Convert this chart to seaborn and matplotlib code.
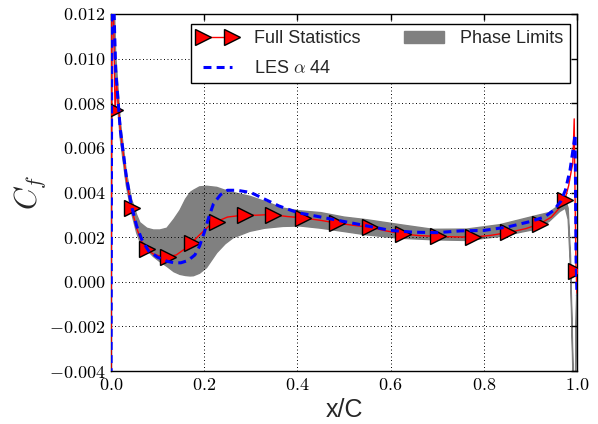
import numpy as np
import matplotlib
matplotlib.use("Agg")
import matplotlib.pyplot as plt
import seaborn as sns
from matplotlib.lines import Line2D
from matplotlib.patches import Patch
from matplotlib.ticker import FuncFormatter, MultipleLocator

# ---------------- data ----------------
x_full = [0.0, 0.002, 0.005, 0.0086, 0.012, 0.02, 0.033, 0.044, 0.055, 0.066, 0.077,
          0.09, 0.105, 0.123, 0.14, 0.157, 0.173, 0.19, 0.205, 0.215, 0.227, 0.25,
          0.27, 0.288, 0.31, 0.33, 0.348, 0.38, 0.413, 0.45, 0.484, 0.52, 0.556,
          0.59, 0.627, 0.66, 0.702, 0.74, 0.777, 0.815, 0.853, 0.89, 0.921, 0.945,
          0.962, 0.974, 0.982, 0.988, 0.991, 0.994, 0.996, 0.998, 1.0]
cf_full = [-0.0060, 0.0160, 0.0125, 0.0077, 0.0089, 0.0068, 0.0046, 0.0033, 0.0024, 0.0018, 0.00147,
           0.00125, 0.00115, 0.00113, 0.0012, 0.00145, 0.00174, 0.0021, 0.0024, 0.00258, 0.0027, 0.0029,
           0.00295, 0.0030, 0.00298, 0.0030, 0.0030, 0.00292, 0.00286, 0.00275, 0.00263, 0.00253, 0.00244,
           0.00228, 0.00214, 0.00207, 0.00203, 0.00201, 0.0020, 0.00208, 0.00221, 0.00238, 0.0026, 0.0029,
           0.0033, 0.00368, 0.0043, 0.0050, 0.0053, 0.0073, 0.0035, 0.0005, -0.0005]
marker_x = [0.0086, 0.044, 0.077, 0.123, 0.173, 0.227, 0.288, 0.348, 0.413, 0.484,
            0.556, 0.627, 0.702, 0.777, 0.853, 0.921, 0.974, 0.998]

x_les = [0.0, 0.002, 0.006, 0.01, 0.02, 0.033, 0.044, 0.055, 0.066, 0.08, 0.1, 0.12,
         0.135, 0.15, 0.165, 0.18, 0.19, 0.2, 0.21, 0.22, 0.235, 0.25, 0.27, 0.3,
         0.33, 0.36, 0.4, 0.45, 0.5, 0.55, 0.6, 0.65, 0.7, 0.75, 0.8, 0.85, 0.9,
         0.93, 0.95, 0.965, 0.975, 0.985, 0.992, 0.996, 0.998, 1.0]
cf_les = [-0.0060, 0.0160, 0.0125, 0.0095, 0.0068, 0.0047, 0.0034, 0.0025, 0.0019, 0.0014, 0.0011, 0.00092,
          0.00085, 0.00085, 0.00095, 0.0012, 0.0016, 0.0022, 0.0029, 0.0035, 0.0039, 0.0041, 0.0041, 0.0040,
          0.0037, 0.0034, 0.0031, 0.0029, 0.0027, 0.0025, 0.0023, 0.00222, 0.0022, 0.00228, 0.0023, 0.00245, 0.0027,
          0.0029, 0.0032, 0.0036, 0.0041, 0.0050, 0.0060, 0.0066, 0.0010, -0.0006]

x_phase = [0.0, 0.002, 0.006, 0.01, 0.02, 0.033, 0.044, 0.055, 0.062, 0.077, 0.091, 0.105,
           0.12, 0.135, 0.148, 0.16, 0.17, 0.177, 0.19, 0.205, 0.227, 0.245, 0.262, 0.298,
           0.33, 0.369, 0.405, 0.45, 0.5, 0.549, 0.62, 0.691, 0.763, 0.835, 0.906, 0.94,
           0.963, 0.975, 0.981, 0.986, 0.99, 0.993, 0.996, 0.998, 1.0]
phase_lower = [-0.008, 0.014, 0.0115, 0.0090, 0.0064, 0.0043, 0.0031, 0.0022, 0.0018, 0.00143, 0.00113, 0.0009,
               0.00069, 0.00045, 0.00033, 0.00028, 0.00026, 0.00027, 0.00038, 0.00063, 0.0013, 0.0017, 0.00197, 0.00226,
               0.0024, 0.00248, 0.0025, 0.0024, 0.00225, 0.0021, 0.00195, 0.00188, 0.00185, 0.00203, 0.00233, 0.0027,
               0.00315, 0.0033, 0.0028, 0.0006, -0.0030, -0.0060, -0.0065, -0.0025, 0.0000]
phase_upper = [-0.002, 0.018, 0.0135, 0.0102, 0.0072, 0.0049, 0.0037, 0.0030, 0.00265, 0.0024, 0.00232, 0.00232,
               0.0024, 0.0028, 0.0032, 0.0037, 0.0040, 0.0041, 0.00425, 0.00428, 0.00423, 0.0041, 0.0040, 0.00383,
               0.0036, 0.0033, 0.00318, 0.0031, 0.0029, 0.00278, 0.00256, 0.00235, 0.00236, 0.00256, 0.00293, 0.0031,
               0.00345, 0.0037, 0.0033, 0.0012, -0.0024, -0.0054, -0.0059, -0.0019, 0.0004]

# ---------------- style ----------------
sns.set_style("white", {"xtick.direction": "in", "ytick.direction": "in",
                        "axes.edgecolor": "black"})
plt.rcParams["font.family"] = ["Liberation Sans", "DejaVu Sans"]
plt.rcParams["mathtext.fontset"] = "cm"

fig = plt.figure(figsize=(5.98, 4.24), dpi=100)
ax = fig.add_axes([111 / 598, 53 / 424, 466 / 598, 357 / 424])

ax.fill_between(x_phase, phase_lower, phase_upper, color="#808080",
                edgecolor="#808080", lw=1, zorder=1)

mark_idx = [i for i, v in enumerate(x_full) if any(abs(v - m) < 1e-9 for m in marker_x)]
sns.lineplot(x=x_full, y=cf_full, ax=ax, color="red", lw=1, estimator=None, sort=False,
             marker=">", markevery=mark_idx, markersize=12, markerfacecolor="red",
             markeredgecolor="black", markeredgewidth=1, zorder=3)
sns.lineplot(x=x_les, y=cf_les, ax=ax, color="blue", lw=2.2, estimator=None, sort=False,
             linestyle="--", zorder=4)
for ln in ax.get_lines()[-1:]:
    ln.set_dashes((2.6, 1.7))

ax.set_xlim(0, 1)
ax.set_ylim(-0.004, 0.012)
ax.xaxis.set_major_locator(MultipleLocator(0.2))
ax.yaxis.set_major_locator(MultipleLocator(0.002))
ax.xaxis.set_major_formatter(FuncFormatter(lambda v, p: f"${v:.1f}$"))
ax.yaxis.set_major_formatter(FuncFormatter(lambda v, p: f"${v:.3f}$"))
ax.tick_params(axis="both", which="major", direction="in", length=4, width=1,
               top=True, right=True, labelsize=13, pad=4, colors="black")
for sp in ax.spines.values():
    sp.set_visible(True)
    sp.set_linewidth(1.0)
    sp.set_color("black")
ax.grid(True, color="black", linestyle=(0, (1, 2.6)), linewidth=0.7)
ax.set_axisbelow(False)

ax.set_xlabel("x/C", fontsize=18, labelpad=3)
ax.set_ylabel("$C_f$", fontsize=22, labelpad=0.5)

h_full = Line2D([], [], color="red", lw=1, marker=">", markersize=12,
                markerfacecolor="red", markeredgecolor="black", markeredgewidth=1)
h_les = Line2D([], [], color="blue", lw=2.2, linestyle=(0, (2.6, 1.7)))
h_phase = Patch(facecolor="#808080", edgecolor="#808080")
leg = ax.legend([h_full, h_les, h_phase], ["Full Statistics", r"LES $\alpha$ 44", "Phase Limits"],
                ncol=2, loc="upper right", bbox_to_anchor=(0.985, 0.972), borderaxespad=0,
                fontsize=13, numpoints=2, handlelength=2.2, handletextpad=0.9,
                columnspacing=2.45, fancybox=False, framealpha=1, edgecolor="black",
                borderpad=0.35, labelspacing=0.7)
leg.get_frame().set_linewidth(1.0)

fig.savefig("out.png", dpi=100)
